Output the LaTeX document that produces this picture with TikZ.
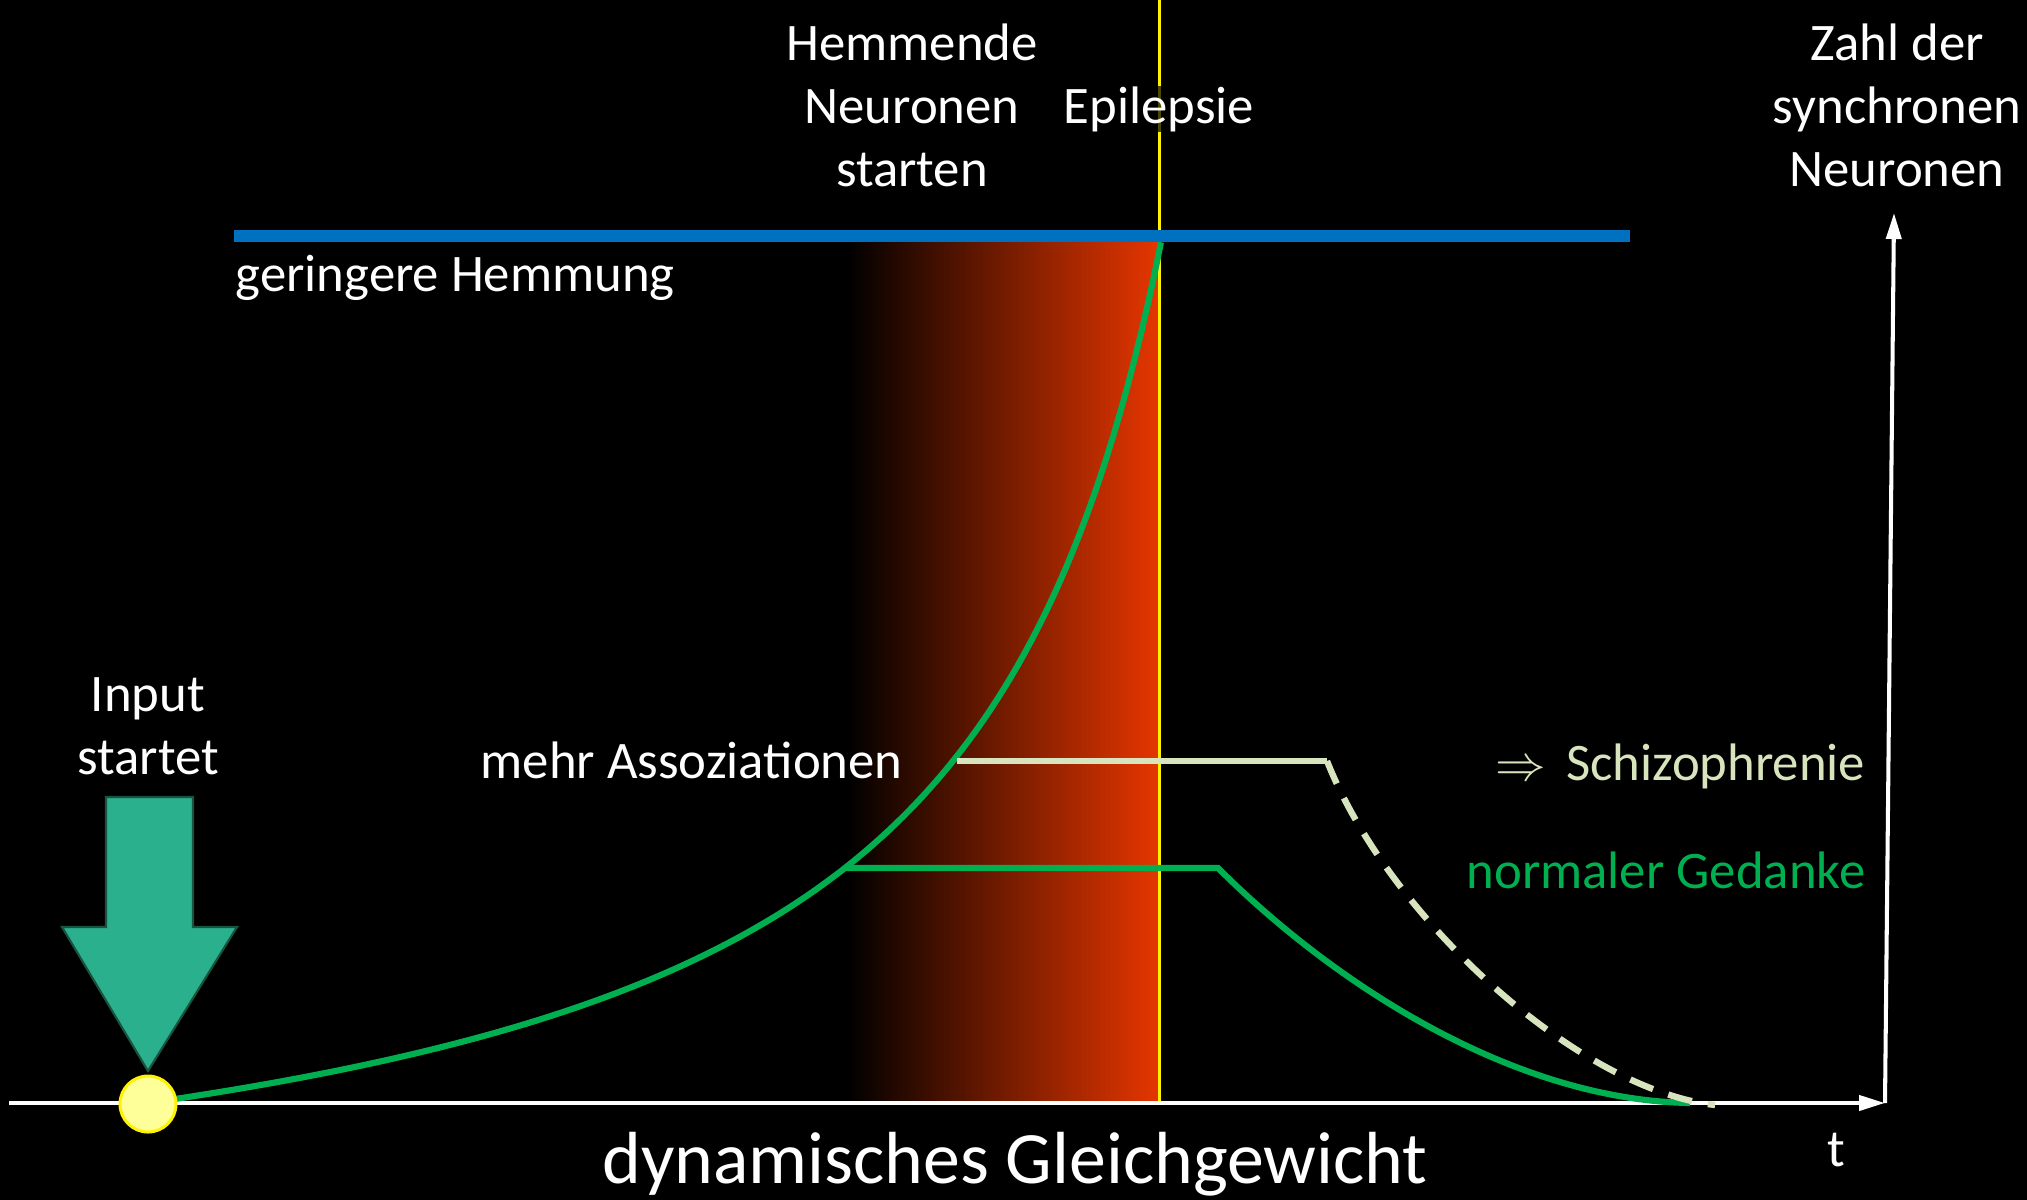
\documentclass[tikz,border=0pt]{standalone}
\usepackage{fontspec}
\setmainfont{Carlito}
\usetikzlibrary{arrows.meta}

\definecolor{hemmblue}{RGB}{0,112,192}
\definecolor{gedgreen}{RGB}{0,176,80}
\definecolor{schizobeige}{RGB}{215,228,189}
\definecolor{inputgreen}{RGB}{43,176,142}
\definecolor{inputedge}{RGB}{24,84,64}
\definecolor{epiorange}{RGB}{230,54,0}
\definecolor{startyellow}{RGB}{255,255,153}

\begin{document}
\begin{tikzpicture}[x=0.01cm, y=-0.01cm, >={Triangle[length=0.26cm,width=0.15cm]},
  lbl/.style={text=white, inner sep=0pt, font=\fontsize{15pt}{17.9pt}\selectfont},
  curve/.style={gedgreen, line width=1.75pt},
  assoc/.style={schizobeige, line width=1.8pt}]
  \fill[black] (0,0) rectangle (2027,1200);
  \useasboundingbox (0,0) rectangle (2027,1200);
  % red zone before the seizure
  \shade[left color=black, right color=epiorange] (847,240) rectangle (1159,1103);
  \draw[yellow, line width=0.85pt] (1159,0) -- (1159,1103);
  \draw[hemmblue, line width=3.4pt] (234,236) -- (1630,236);
  % axes
  \coordinate (O) at (1885,1103);
  \coordinate (xstart) at (9,1103);
  \coordinate (ytop) at (1894,213);
  \draw[white, line width=1.15pt, ->] (xstart) -- (O);
  \draw[white, line width=1.15pt, ->] (O) -- (ytop);
  % rising curve and the two plateaus
  \draw[curve] plot[domain=148:1161, samples=150, variable=\t]
    (\t, {1103 - (215.8*(1000/(1369-\t)) - 176.74)});
  \draw[curve] (845,868) -- (1218,868) .. controls (1330,980) and (1510,1100) .. (1690,1103);
  \draw[assoc] (957,761) -- (1327,761);
  \draw[assoc, dash pattern=on 7pt off 4.6pt] (1327,761) .. controls (1390,920) and (1580,1090) .. (1715,1105);
  % input
  \draw[fill=inputgreen, draw=inputedge, line width=0.6pt] (106,797) -- (193,797) -- (193,927)
    -- (237,927) -- (148,1071) -- (62,927) -- (106,927) -- cycle;
  \node[circle, fill=startyellow, draw=yellow, line width=0.85pt, minimum size=0.56cm, inner sep=0pt] (start) at (148,1104) {};
  % labels
  \node[lbl, align=center, anchor=base] (input) at (148,774) {Input\\startet};
  \node[lbl, align=center, anchor=base] (hemmende) at (912,186) {Hemmende\\Neuronen\\starten};
  \node[lbl, anchor=base, fill=black, fill opacity=0.7, text opacity=1] (epilepsie) at (1159,123) {Epilepsie};
  \node[lbl, align=center, anchor=base] (zahl) at (1897,186) {Zahl der\\synchronen\\Neuronen};
  \node[lbl, anchor=base west] (gering) at (235,291) {geringere Hemmung};
  \node[lbl, anchor=base west] (assoz) at (480,778) {mehr Assoziationen};
  \node[lbl, anchor=base east, text=schizobeige] (schizo) at (1866,780) {$\Rightarrow$\hspace{0.2cm}Schizophrenie};
  \node[lbl, anchor=base east, text=gedgreen] (normal) at (1866,888) {normaler Gedanke};
  \node[lbl, anchor=base] (tlabel) at (1836,1166) {t};
  \node[lbl, anchor=base, font=\fontsize{21pt}{25pt}\selectfont] (gleich) at (1015,1183) {dynamisches Gleichgewicht};
\end{tikzpicture}
\end{document}
